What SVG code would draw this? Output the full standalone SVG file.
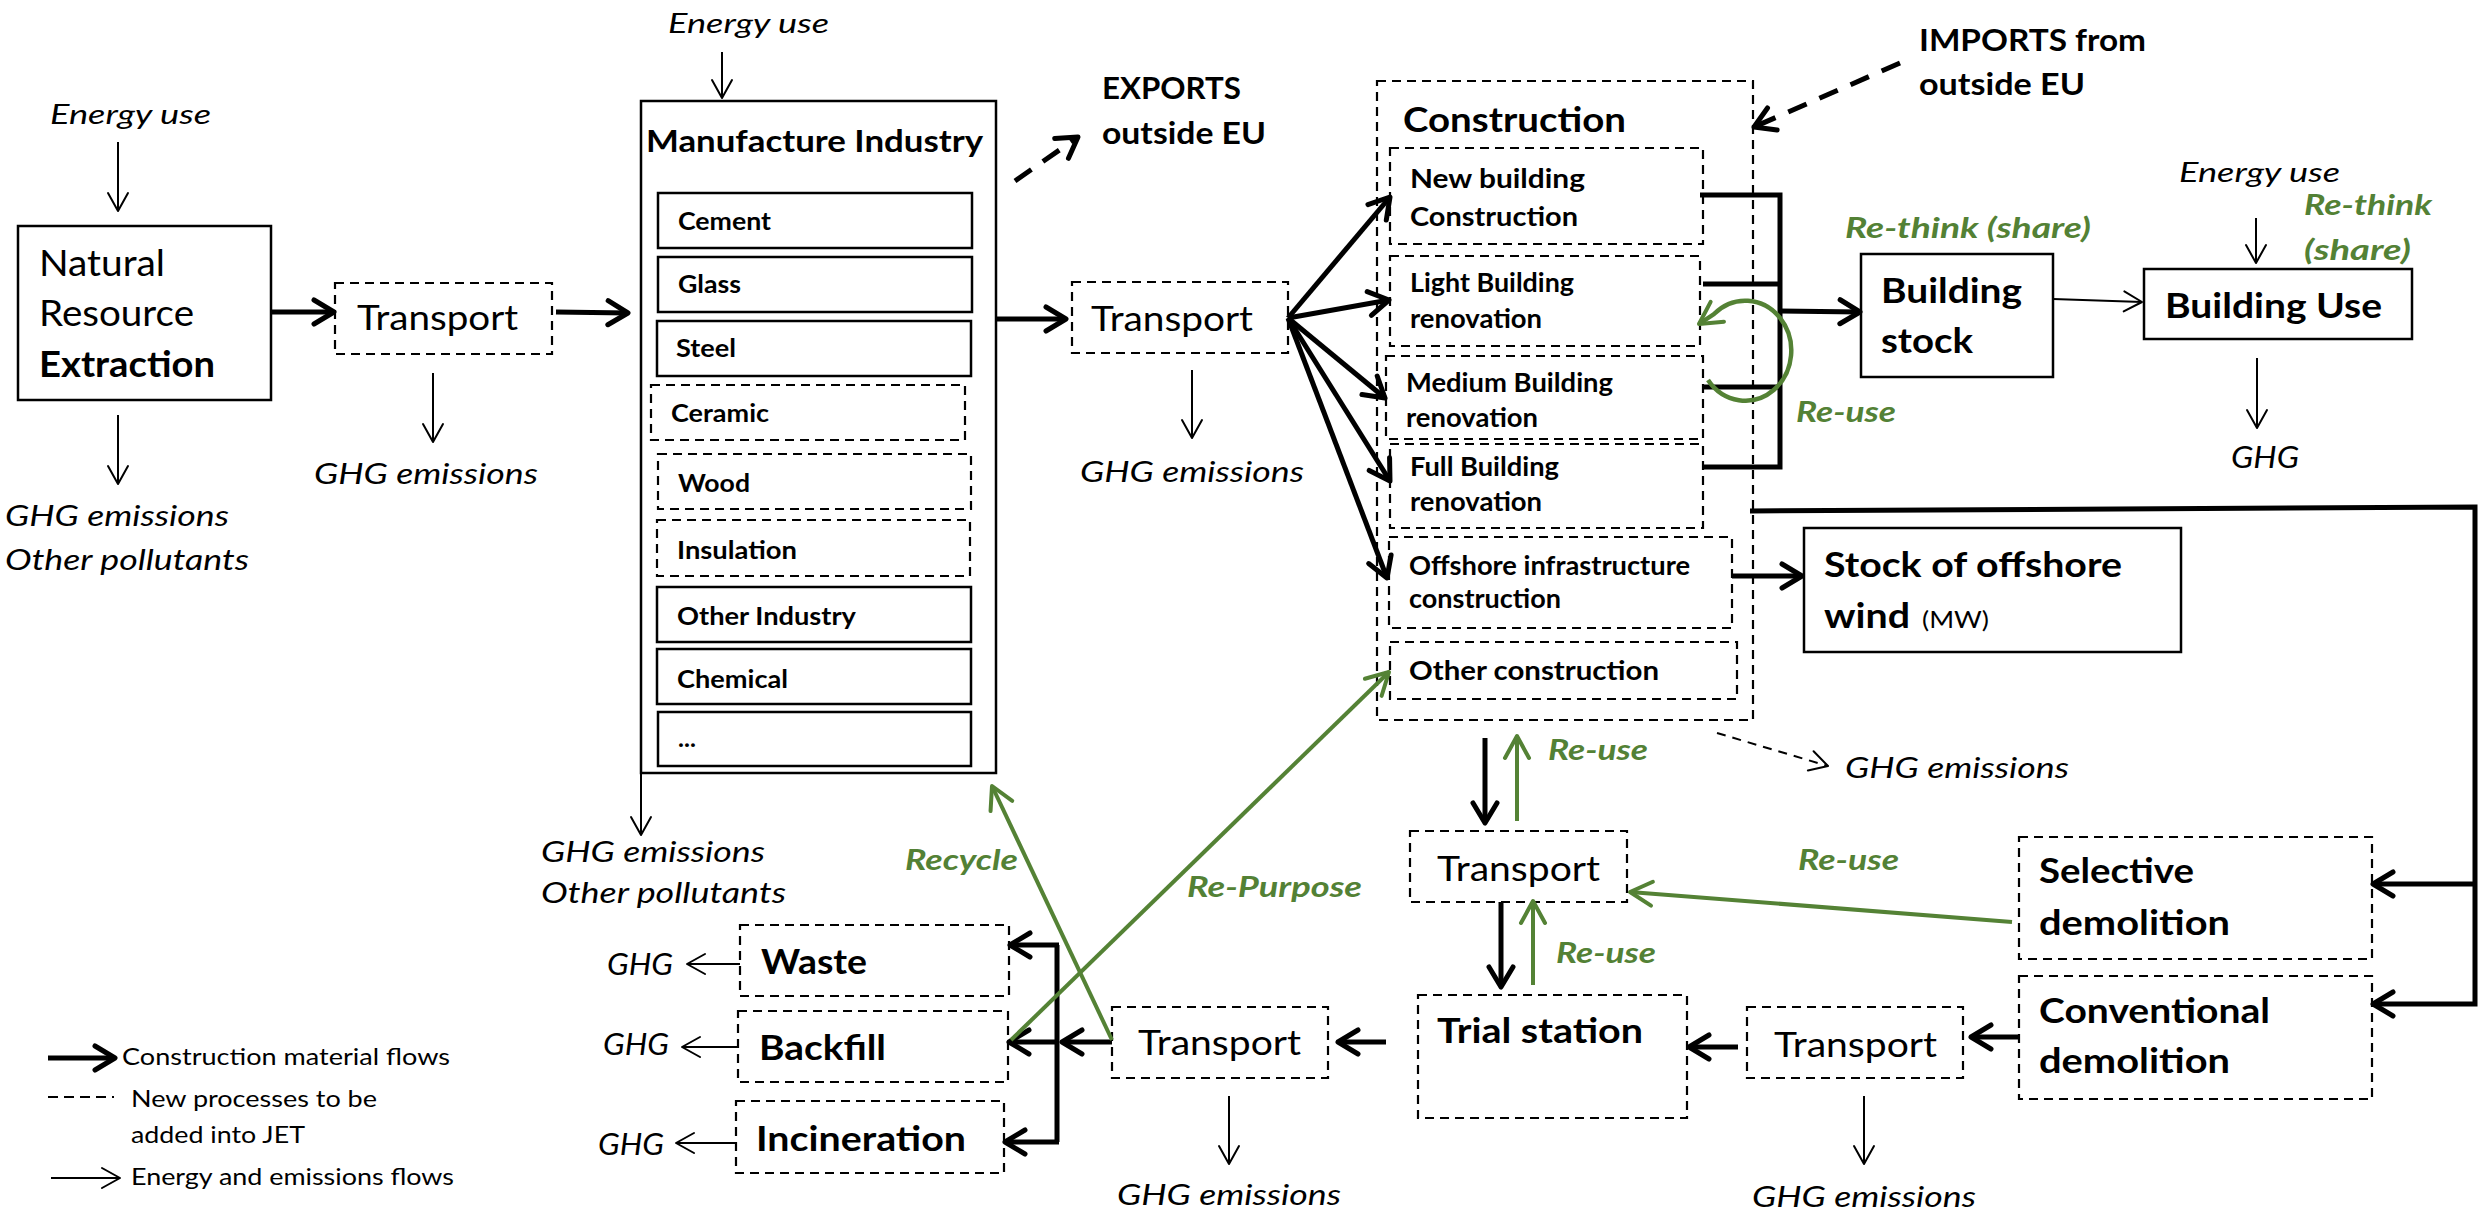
<svg xmlns="http://www.w3.org/2000/svg" width="2484" height="1218" viewBox="0 0 2484 1218">
<style>
.t{font-family:Lato,"Liberation Sans",sans-serif;fill:#000}
.b{font-weight:700}
.i{font-style:italic}
.g{fill:#538135;font-weight:700;font-style:italic}
.box{fill:#fff;stroke:#000;stroke-width:2.5}
.dbox{fill:#fff;stroke:#000;stroke-width:2.2;stroke-dasharray:9 6}
.thick{stroke:#000;stroke-width:5;fill:none;marker-end:url(#ahT)}
.thin{stroke:#000;stroke-width:2;fill:none;marker-end:url(#ahS)}
.gr{stroke:#548235;stroke-width:4;fill:none;marker-end:url(#ahG)}
.brk{stroke:#000;stroke-width:5;fill:none}
</style>
<defs>
<marker id="ahT" markerUnits="userSpaceOnUse" viewBox="0 0 30 30" markerWidth="30" markerHeight="30" refX="25" refY="15" orient="auto"><path d="M5,3 L25,15 L5,27" fill="none" stroke="#000" stroke-width="5" stroke-linecap="round" stroke-linejoin="round"/></marker>
<marker id="ahS" markerUnits="userSpaceOnUse" viewBox="0 0 24 24" markerWidth="24" markerHeight="24" refX="21" refY="12" orient="auto"><path d="M3,2 L21,12 L3,22" fill="none" stroke="#000" stroke-width="2" stroke-linecap="round" stroke-linejoin="round"/></marker>
<marker id="ahG" markerUnits="userSpaceOnUse" viewBox="0 0 30 30" markerWidth="30" markerHeight="30" refX="26" refY="15" orient="auto"><path d="M4,3 L26,15 L4,27" fill="none" stroke="#548235" stroke-width="4" stroke-linecap="round" stroke-linejoin="round"/></marker>
</defs>
<rect width="2484" height="1218" fill="#fff"/>

<g id="natural-resource">
<rect class="box" x="18" y="226" width="253" height="174"/>
<text class="t" x="39" y="276" font-size="37" textLength="126" lengthAdjust="spacingAndGlyphs">Natural</text>
<text class="t" x="39" y="326" font-size="37" textLength="155" lengthAdjust="spacingAndGlyphs">Resource</text>
<text class="t b" x="39" y="377" font-size="37" textLength="176" lengthAdjust="spacingAndGlyphs">Extraction</text>
</g>
<g id="energy-1"><text class="t i" x="50" y="124" font-size="27" textLength="161" lengthAdjust="spacingAndGlyphs">Energy use</text></g>
<g id="emis-1">
<text class="t i" x="5" y="526" font-size="28" textLength="224" lengthAdjust="spacingAndGlyphs">GHG emissions</text>
<text class="t i" x="5" y="570" font-size="28" textLength="244" lengthAdjust="spacingAndGlyphs">Other pollutants</text>
</g>

<g id="transport-1">
<rect class="dbox" x="335" y="283" width="217" height="71"/>
<text class="t" x="357" y="330" font-size="34" textLength="161" lengthAdjust="spacingAndGlyphs">Transport</text>
</g>
<g id="emis-2"><text class="t i" x="314" y="484" font-size="28" textLength="224" lengthAdjust="spacingAndGlyphs">GHG emissions</text></g>

<g id="manufacture">
<rect class="box" x="641" y="101" width="355" height="672"/>
<text class="t b" x="646" y="152" font-size="31" textLength="337" lengthAdjust="spacingAndGlyphs">Manufacture Industry</text>
<rect class="box" x="658" y="193" width="314" height="55"/>
<text class="t b" x="678" y="230" font-size="25" textLength="93" lengthAdjust="spacingAndGlyphs">Cement</text>
<rect class="box" x="658" y="257" width="314" height="55"/>
<text class="t b" x="678" y="293" font-size="25" textLength="63" lengthAdjust="spacingAndGlyphs">Glass</text>
<rect class="box" x="657" y="321" width="314" height="55"/>
<text class="t b" x="676" y="357" font-size="25" textLength="60" lengthAdjust="spacingAndGlyphs">Steel</text>
<rect class="dbox" x="651" y="385" width="314" height="55"/>
<text class="t b" x="671" y="422" font-size="25" textLength="98" lengthAdjust="spacingAndGlyphs">Ceramic</text>
<rect class="dbox" x="658" y="454" width="313" height="55"/>
<text class="t b" x="678" y="492" font-size="25" textLength="72" lengthAdjust="spacingAndGlyphs">Wood</text>
<rect class="dbox" x="657" y="520" width="313" height="56"/>
<text class="t b" x="677" y="559" font-size="25" textLength="120" lengthAdjust="spacingAndGlyphs">Insulation</text>
<rect class="box" x="657" y="587" width="314" height="55"/>
<text class="t b" x="677" y="625" font-size="25" textLength="179" lengthAdjust="spacingAndGlyphs">Other Industry</text>
<rect class="box" x="657" y="649" width="314" height="55"/>
<text class="t b" x="677" y="688" font-size="25" textLength="111" lengthAdjust="spacingAndGlyphs">Chemical</text>
<rect class="box" x="658" y="712" width="313" height="54"/>
<text class="t b" x="678" y="747" font-size="25">...</text>
</g>
<g id="energy-2"><text class="t i" x="668" y="33" font-size="27" textLength="161" lengthAdjust="spacingAndGlyphs">Energy use</text></g>
<g id="emis-3">
<text class="t i" x="541" y="862" font-size="28" textLength="224" lengthAdjust="spacingAndGlyphs">GHG emissions</text>
<text class="t i" x="541" y="903" font-size="28" textLength="245" lengthAdjust="spacingAndGlyphs">Other pollutants</text>
</g>
<g id="exports">
<text class="t b" x="1102" y="99" font-size="31" textLength="139" lengthAdjust="spacingAndGlyphs">EXPORTS</text>
<text class="t b" x="1102" y="144" font-size="31" textLength="164" lengthAdjust="spacingAndGlyphs">outside EU</text>
</g>

<g id="transport-2">
<rect class="dbox" x="1072" y="282" width="216" height="71"/>
<text class="t" x="1091" y="331" font-size="34" textLength="162" lengthAdjust="spacingAndGlyphs">Transport</text>
</g>
<g id="emis-4"><text class="t i" x="1080" y="482" font-size="28" textLength="224" lengthAdjust="spacingAndGlyphs">GHG emissions</text></g>

<g id="construction">
<rect class="dbox" x="1377" y="81" width="376" height="639" stroke-width="2.5" stroke-dasharray="11 7"/>
<text class="t b" x="1403" y="132" font-size="35" textLength="223" lengthAdjust="spacingAndGlyphs">Construction</text>
<g id="new-building">
<rect class="dbox" x="1390" y="148" width="313" height="96"/>
<text class="t b" x="1410" y="188" font-size="26" textLength="175" lengthAdjust="spacingAndGlyphs">New building</text>
<text class="t b" x="1410" y="226" font-size="26" textLength="168" lengthAdjust="spacingAndGlyphs">Construction</text>
</g>
<g id="light-renovation">
<rect class="dbox" x="1390" y="256" width="310" height="90"/>
<text class="t b" x="1410" y="292" font-size="26" textLength="164" lengthAdjust="spacingAndGlyphs">Light Building</text>
<text class="t b" x="1410" y="328" font-size="26" textLength="132" lengthAdjust="spacingAndGlyphs">renovation</text>
</g>
<g id="medium-renovation">
<rect class="dbox" x="1386" y="356" width="317" height="83"/>
<text class="t b" x="1406" y="392" font-size="26" textLength="207" lengthAdjust="spacingAndGlyphs">Medium Building</text>
<text class="t b" x="1406" y="427" font-size="26" textLength="132" lengthAdjust="spacingAndGlyphs">renovation</text>
</g>
<g id="full-renovation">
<rect class="dbox" x="1390" y="444" width="313" height="84"/>
<text class="t b" x="1410" y="476" font-size="26" textLength="149" lengthAdjust="spacingAndGlyphs">Full Building</text>
<text class="t b" x="1410" y="511" font-size="26" textLength="132" lengthAdjust="spacingAndGlyphs">renovation</text>
</g>
<g id="offshore-construction">
<rect class="dbox" x="1389" y="537" width="343" height="91"/>
<text class="t b" x="1409" y="575" font-size="26" textLength="281" lengthAdjust="spacingAndGlyphs">Offshore infrastructure</text>
<text class="t b" x="1409" y="608" font-size="26" textLength="152" lengthAdjust="spacingAndGlyphs">construction</text>
</g>
<g id="other-construction">
<rect class="dbox" x="1390" y="642" width="347" height="57"/>
<text class="t b" x="1409" y="680" font-size="26" textLength="250" lengthAdjust="spacingAndGlyphs">Other construction</text>
</g>
</g>
<g id="imports">
<text class="t b" x="1919" y="51" font-size="31" textLength="227" lengthAdjust="spacingAndGlyphs">IMPORTS from</text>
<text class="t b" x="1919" y="95" font-size="31" textLength="166" lengthAdjust="spacingAndGlyphs">outside EU</text>
</g>

<g id="building-stock">
<rect class="box" x="1861" y="254" width="192" height="123"/>
<text class="t b" x="1881" y="303" font-size="35" textLength="141" lengthAdjust="spacingAndGlyphs">Building</text>
<text class="t b" x="1881" y="353" font-size="35" textLength="92" lengthAdjust="spacingAndGlyphs">stock</text>
</g>
<g id="rethink-1"><text class="t g" x="1845" y="238" font-size="28" textLength="246" lengthAdjust="spacingAndGlyphs">Re-think (share)</text></g>
<g id="building-use">
<rect class="box" x="2144" y="269" width="268" height="70"/>
<text class="t b" x="2165" y="318" font-size="35" textLength="217" lengthAdjust="spacingAndGlyphs">Building Use</text>
</g>
<g id="energy-3"><text class="t i" x="2179" y="182" font-size="27" textLength="161" lengthAdjust="spacingAndGlyphs">Energy use</text></g>
<g id="rethink-2">
<text class="t g" x="2304" y="215" font-size="28" textLength="128" lengthAdjust="spacingAndGlyphs">Re-think</text>
<text class="t g" x="2304" y="260" font-size="28" textLength="107" lengthAdjust="spacingAndGlyphs">(share)</text>
</g>
<g id="ghg-use"><text class="t i" x="2231" y="468" font-size="30" textLength="68" lengthAdjust="spacingAndGlyphs">GHG</text></g>
<g id="reuse-1"><text class="t g" x="1796" y="422" font-size="29" textLength="100" lengthAdjust="spacingAndGlyphs">Re-use</text></g>

<g id="offshore-stock">
<rect class="box" x="1804" y="528" width="377" height="124"/>
<text class="t b" x="1824" y="577" font-size="35" textLength="298" lengthAdjust="spacingAndGlyphs">Stock of offshore</text>
<text class="t b" x="1824" y="628" font-size="35" textLength="86" lengthAdjust="spacingAndGlyphs">wind</text>
<text class="t" x="1922" y="628" font-size="24" textLength="67" lengthAdjust="spacingAndGlyphs">(MW)</text>
</g>
<g id="emis-5"><text class="t i" x="1845" y="778" font-size="28" textLength="224" lengthAdjust="spacingAndGlyphs">GHG emissions</text></g>

<g id="transport-3">
<rect class="dbox" x="1410" y="831" width="217" height="71"/>
<text class="t" x="1437" y="881" font-size="34" textLength="163" lengthAdjust="spacingAndGlyphs">Transport</text>
</g>
<g id="reuse-2"><text class="t g" x="1548" y="760" font-size="29" textLength="100" lengthAdjust="spacingAndGlyphs">Re-use</text></g>
<g id="reuse-3"><text class="t g" x="1556" y="963" font-size="29" textLength="100" lengthAdjust="spacingAndGlyphs">Re-use</text></g>
<g id="reuse-4"><text class="t g" x="1798" y="870" font-size="29" textLength="101" lengthAdjust="spacingAndGlyphs">Re-use</text></g>
<g id="trial-station">
<rect class="dbox" x="1418" y="995" width="269" height="123"/>
<text class="t b" x="1437" y="1043" font-size="35" textLength="206" lengthAdjust="spacingAndGlyphs">Trial station</text>
</g>
<g id="selective-demolition">
<rect class="dbox" x="2019" y="837" width="353" height="122"/>
<text class="t b" x="2039" y="883" font-size="34" textLength="155" lengthAdjust="spacingAndGlyphs">Selective</text>
<text class="t b" x="2039" y="935" font-size="34" textLength="191" lengthAdjust="spacingAndGlyphs">demolition</text>
</g>
<g id="conventional-demolition">
<rect class="dbox" x="2019" y="976" width="353" height="123"/>
<text class="t b" x="2039" y="1023" font-size="34" textLength="231" lengthAdjust="spacingAndGlyphs">Conventional</text>
<text class="t b" x="2039" y="1073" font-size="34" textLength="191" lengthAdjust="spacingAndGlyphs">demolition</text>
</g>
<g id="transport-4">
<rect class="dbox" x="1747" y="1007" width="216" height="71"/>
<text class="t" x="1774" y="1057" font-size="34" textLength="163" lengthAdjust="spacingAndGlyphs">Transport</text>
</g>
<g id="emis-6"><text class="t i" x="1752" y="1207" font-size="28" textLength="224" lengthAdjust="spacingAndGlyphs">GHG emissions</text></g>
<g id="transport-5">
<rect class="dbox" x="1112" y="1007" width="216" height="71"/>
<text class="t" x="1138" y="1055" font-size="34" textLength="163" lengthAdjust="spacingAndGlyphs">Transport</text>
</g>
<g id="emis-7"><text class="t i" x="1117" y="1205" font-size="28" textLength="224" lengthAdjust="spacingAndGlyphs">GHG emissions</text></g>

<g id="waste">
<rect class="dbox" x="740" y="925" width="269" height="71"/>
<text class="t b" x="761" y="974" font-size="34" textLength="106" lengthAdjust="spacingAndGlyphs">Waste</text>
</g>
<g id="backfill">
<rect class="dbox" x="738" y="1011" width="270" height="71"/>
<text class="t b" x="759" y="1060" font-size="34" textLength="127" lengthAdjust="spacingAndGlyphs">Backfill</text>
</g>
<g id="incineration">
<rect class="dbox" x="736" y="1101" width="268" height="72"/>
<text class="t b" x="756" y="1151" font-size="34" textLength="210" lengthAdjust="spacingAndGlyphs">Incineration</text>
</g>
<g id="ghg-waste"><text class="t i" x="607" y="975" font-size="30" textLength="66" lengthAdjust="spacingAndGlyphs">GHG</text></g>
<g id="ghg-backfill"><text class="t i" x="603" y="1055" font-size="30" textLength="66" lengthAdjust="spacingAndGlyphs">GHG</text></g>
<g id="ghg-incineration"><text class="t i" x="598" y="1155" font-size="30" textLength="66" lengthAdjust="spacingAndGlyphs">GHG</text></g>
<g id="recycle-label"><text class="t g" x="905" y="870" font-size="28" textLength="113" lengthAdjust="spacingAndGlyphs">Recycle</text></g>
<g id="repurpose-label"><text class="t g" x="1187" y="897" font-size="28" textLength="175" lengthAdjust="spacingAndGlyphs">Re-Purpose</text></g>

<g id="legend">
<line class="thick" x1="48" y1="1058" x2="115" y2="1058" stroke-width="7"/>
<text class="t" x="122" y="1065" font-size="23" textLength="328" lengthAdjust="spacingAndGlyphs">Construction material flows</text>
<line x1="48" y1="1097" x2="114" y2="1097" stroke="#000" stroke-width="2" stroke-dasharray="10 6"/>
<text class="t" x="131" y="1107" font-size="23" textLength="246" lengthAdjust="spacingAndGlyphs">New processes to be</text>
<text class="t" x="131" y="1143" font-size="23" textLength="174" lengthAdjust="spacingAndGlyphs">added into JET</text>
<line class="thin" x1="51" y1="1178" x2="120" y2="1178"/>
<text class="t" x="131" y="1185" font-size="23" textLength="323" lengthAdjust="spacingAndGlyphs">Energy and emissions flows</text>
</g>

<g id="connectors">
<line class="thin" x1="118" y1="142" x2="118" y2="211"/>
<line class="thin" x1="118" y1="415" x2="118" y2="484"/>
<line class="thick" x1="271" y1="312" x2="334" y2="312"/>
<line class="thin" x1="433" y1="373" x2="433" y2="442"/>
<line class="thick" x1="556" y1="312" x2="628" y2="313"/>
<line class="thin" x1="722" y1="52" x2="722" y2="98"/>
<line class="thin" x1="641" y1="773" x2="641" y2="835"/>
<line class="thick" x1="1015" y1="181" x2="1078" y2="137" stroke-dasharray="20 14"/>
<line class="thick" x1="996" y1="319" x2="1066" y2="319"/>
<line class="thin" x1="1192" y1="370" x2="1192" y2="438"/>
<line class="thick" x1="1288" y1="318" x2="1390" y2="197" stroke-width="4.5"/>
<line class="thick" x1="1288" y1="318" x2="1389" y2="300" stroke-width="4.5"/>
<line class="thick" x1="1288" y1="318" x2="1385" y2="398" stroke-width="4.5"/>
<line class="thick" x1="1288" y1="318" x2="1390" y2="481" stroke-width="4.5"/>
<line class="thick" x1="1288" y1="318" x2="1387" y2="578" stroke-width="4.5"/>
<line class="thick" x1="1900" y1="63" x2="1754" y2="127" stroke-dasharray="20 14"/>
<path class="brk" d="M1700,195 H1780 V467 H1703 M1703,284 H1780 M1703,387 H1780"/>
<line class="thick" x1="1780" y1="311" x2="1860" y2="312"/>
<line class="thin" x1="2053" y1="299" x2="2142" y2="302"/>
<line class="thin" x1="2256" y1="218" x2="2256" y2="263"/>
<line class="thin" x1="2257" y1="358" x2="2257" y2="428"/>
<path d="M1708,380 A46,50 0 1 0 1714,314 L1699,324" stroke="#548235" stroke-width="4.5" fill="none" marker-end="url(#ahG)"/>
<line class="thick" x1="1732" y1="576" x2="1802" y2="576"/>
<path class="thick" d="M1750,511 L2475,507 L2475,1004 L2373,1004"/>
<line class="thick" x1="2475" y1="884" x2="2373" y2="884"/>
<line x1="1717" y1="733" x2="1828" y2="766" stroke="#000" stroke-width="2" stroke-dasharray="9 7" marker-end="url(#ahS)"/>
<line class="thick" x1="1485" y1="738" x2="1485" y2="823"/>
<line class="gr" x1="1517" y1="821" x2="1517" y2="736"/>
<line class="thick" x1="1501" y1="902" x2="1501" y2="987"/>
<line class="gr" x1="1533" y1="985" x2="1533" y2="901"/>
<line class="gr" x1="2012" y1="922" x2="1630" y2="892" stroke-width="6"/>
<line class="thick" x1="2019" y1="1037" x2="1971" y2="1037"/>
<line class="thick" x1="1738" y1="1047" x2="1689" y2="1047"/>
<line class="thin" x1="1864" y1="1096" x2="1864" y2="1164"/>
<line class="thick" x1="1386" y1="1042" x2="1338" y2="1042"/>
<line class="thin" x1="1229" y1="1096" x2="1229" y2="1164"/>
<line class="thick" x1="1112" y1="1042" x2="1062" y2="1042"/>
<line class="brk" x1="1057" y1="945" x2="1057" y2="1142"/>
<line class="thick" x1="1059" y1="945" x2="1010" y2="945"/>
<line class="thick" x1="1059" y1="1042" x2="1009" y2="1042"/>
<line class="thick" x1="1059" y1="1142" x2="1005" y2="1142"/>
<line class="thin" x1="740" y1="964" x2="687" y2="964"/>
<line class="thin" x1="738" y1="1047" x2="682" y2="1047"/>
<line class="thin" x1="736" y1="1143" x2="676" y2="1143"/>
<line class="gr" x1="1112" y1="1040" x2="992" y2="786"/>
<line class="gr" x1="1011" y1="1040" x2="1389" y2="672"/>
</g>
</svg>
